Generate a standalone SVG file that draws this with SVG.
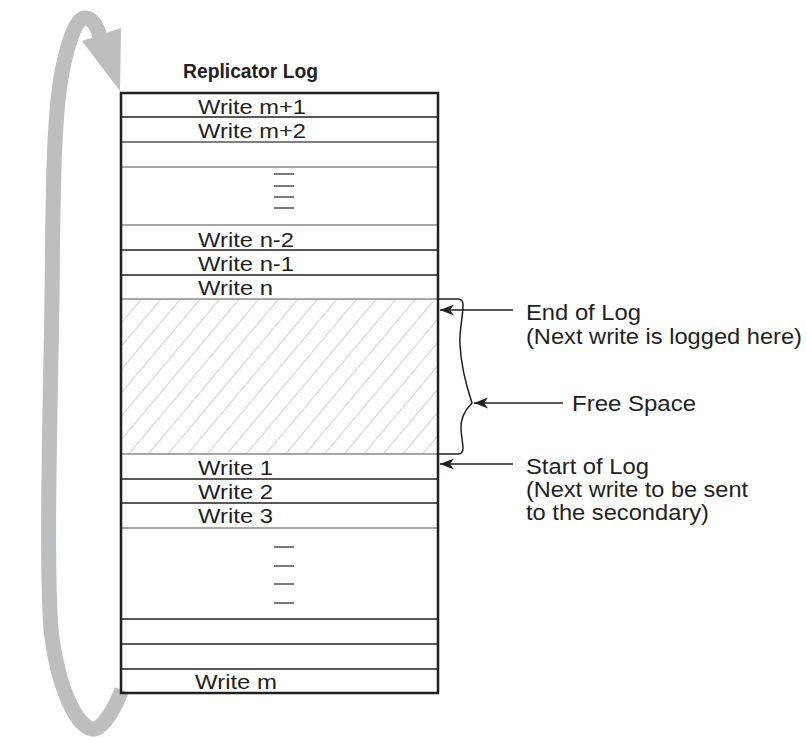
<svg xmlns="http://www.w3.org/2000/svg" width="806" height="737" viewBox="0 0 806 737">
<style>
.t{font-family:"Liberation Sans",Arial,Helvetica,sans-serif;font-size:21px;fill:#231f20}
.lbl{font-family:"Liberation Sans",Arial,Helvetica,sans-serif;font-size:22px;fill:#231f20}
.ttl{font-family:"Liberation Sans",Arial,Helvetica,sans-serif;font-size:20px;font-weight:bold;fill:#231f20}
.dk{stroke:#231f20;stroke-width:1.5;fill:none}
.gr{stroke:#8a8a8a;stroke-width:1.5;fill:none}
.dash{stroke:#231f20;stroke-width:1.2}
.conn{stroke:#231f20;stroke-width:1.5;fill:none}
</style>
<defs>
<pattern id="hatch" patternUnits="userSpaceOnUse" width="15" height="10" patternTransform="rotate(40)">
<line x1="0" y1="-1" x2="0" y2="11" stroke="#a8a8a8" stroke-width="1.1"/>
</pattern>
<marker id="ah" viewBox="-15 -6 16 12" refX="0" refY="0" markerWidth="16" markerHeight="12" markerUnits="userSpaceOnUse" orient="auto">
<path d="M0,0 L-14,-5.5 L-10,0 L-14,5.5 Z" fill="#231f20"/>
</marker>
</defs>
<rect width="806" height="737" fill="#ffffff"/>

<g id="cycle-arrow">
<path d="M122,690 C113,712 101,731 92,729 C77,726 58,690 51,630 C46,560 50,420 52,300 C53,200 53,120 62,72 C68,42 76,18 85,18 C93,18 98,28 101,40" fill="none" stroke="#bcbec0" stroke-width="15"/>
<polygon points="82,41 121,28 120,91" fill="#bcbec0"/>
</g>

<g id="title"><text class="ttl" x="183" y="78" textLength="135" lengthAdjust="spacingAndGlyphs">Replicator Log</text></g>

<g id="log">
<rect x="121" y="299" width="317" height="155" fill="url(#hatch)"/>
<line class="dk" x1="121" y1="117" x2="438" y2="117"/>
<line x1="121" y1="142" x2="438" y2="142" stroke="#555" stroke-width="1.5"/>
<line class="gr" x1="121" y1="167" x2="438" y2="167"/>
<line class="gr" x1="121" y1="225" x2="438" y2="225"/>
<line class="dk" x1="121" y1="250" x2="438" y2="250"/>
<line class="dk" x1="121" y1="275" x2="438" y2="275"/>
<line class="gr" x1="121" y1="299" x2="438" y2="299"/>
<line class="gr" x1="121" y1="454" x2="438" y2="454"/>
<line class="dk" x1="121" y1="479" x2="438" y2="479"/>
<line class="dk" x1="121" y1="503" x2="438" y2="503" stroke-width="2"/>
<line class="gr" x1="121" y1="528" x2="438" y2="528"/>
<line class="dk" x1="121" y1="619" x2="438" y2="619"/>
<line class="dk" x1="121" y1="644" x2="438" y2="644"/>
<line class="dk" x1="121" y1="669" x2="438" y2="669"/>
<rect x="121" y="93" width="317" height="600" fill="none" stroke="#231f20" stroke-width="2.5"/>
<g class="dash">
<line x1="274" y1="174" x2="294" y2="174"/><line x1="274" y1="186" x2="294" y2="186"/><line x1="274" y1="197" x2="294" y2="197"/><line x1="274" y1="208" x2="294" y2="208"/>
<line x1="274" y1="547" x2="294" y2="547"/><line x1="274" y1="566" x2="294" y2="566"/><line x1="274" y1="584" x2="294" y2="584"/><line x1="274" y1="603" x2="294" y2="603"/>
</g>
</g>

<g id="row-m1"><text class="t" x="198" y="114" textLength="108" lengthAdjust="spacingAndGlyphs">Write m+1</text></g>
<g id="row-m2"><text class="t" x="198" y="138" textLength="108" lengthAdjust="spacingAndGlyphs">Write m+2</text></g>
<g id="row-n2"><text class="t" x="198" y="247" textLength="96" lengthAdjust="spacingAndGlyphs">Write n-2</text></g>
<g id="row-n1"><text class="t" x="198" y="271" textLength="96" lengthAdjust="spacingAndGlyphs">Write n-1</text></g>
<g id="row-n"><text class="t" x="198" y="295" textLength="75" lengthAdjust="spacingAndGlyphs">Write n</text></g>
<g id="row-1"><text class="t" x="198" y="475" textLength="75" lengthAdjust="spacingAndGlyphs">Write 1</text></g>
<g id="row-2"><text class="t" x="198" y="499" textLength="75" lengthAdjust="spacingAndGlyphs">Write 2</text></g>
<g id="row-3"><text class="t" x="198" y="523" textLength="75" lengthAdjust="spacingAndGlyphs">Write 3</text></g>
<g id="row-m"><text class="t" x="195" y="689" textLength="82" lengthAdjust="spacingAndGlyphs">Write m</text></g>

<g id="brace">
<path class="conn" d="M438,299 H458 Q463,299 463,305 C463,318 459,330 460,345 C461,365 466,385 472,403 C465,410 460,418 461,430 C462,440 463,445 463,448 Q463,454 458,454 H438"/>
</g>

<g id="connectors">
<line class="conn" x1="513" y1="310" x2="440" y2="310" marker-end="url(#ah)"/>
<line class="conn" x1="563" y1="403" x2="474" y2="403" marker-end="url(#ah)"/>
<line class="conn" x1="513" y1="464" x2="440" y2="464" marker-end="url(#ah)"/>
</g>

<g id="label-end">
<text class="lbl" x="526" y="320" textLength="115" lengthAdjust="spacingAndGlyphs">End of Log</text>
<text class="lbl" x="526" y="344" textLength="276" lengthAdjust="spacingAndGlyphs">(Next write is logged here)</text>
</g>
<g id="label-free"><text class="lbl" x="572" y="411" textLength="124" lengthAdjust="spacingAndGlyphs">Free Space</text></g>
<g id="label-start">
<text class="lbl" x="526" y="474" textLength="123" lengthAdjust="spacingAndGlyphs">Start of Log</text>
<text class="lbl" x="526" y="497" textLength="222" lengthAdjust="spacingAndGlyphs">(Next write to be sent</text>
<text class="lbl" x="526" y="520" textLength="183" lengthAdjust="spacingAndGlyphs">to the secondary)</text>
</g>
</svg>
